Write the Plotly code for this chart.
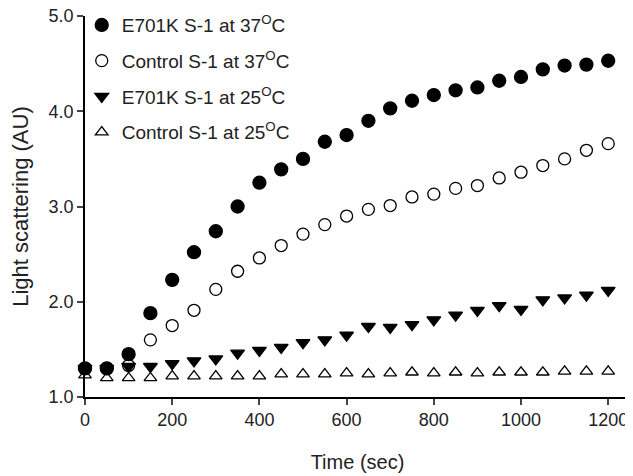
import plotly.graph_objects as go

time_s = [0, 50, 100, 150, 200, 250, 300, 350, 400, 450, 500, 550, 600,
          650, 700, 750, 800, 850, 900, 950, 1000, 1050, 1100, 1150, 1200]

e701k_37 = [1.30, 1.30, 1.45, 1.88, 2.23, 2.52, 2.74, 3.00, 3.25, 3.39, 3.50, 3.68, 3.75,
            3.90, 4.03, 4.11, 4.17, 4.22, 4.25, 4.32, 4.36, 4.44, 4.48, 4.49, 4.53]
control_37 = [1.30, 1.30, 1.33, 1.60, 1.75, 1.91, 2.13, 2.32, 2.46, 2.59, 2.71, 2.81, 2.90,
              2.97, 3.01, 3.10, 3.13, 3.19, 3.22, 3.30, 3.36, 3.43, 3.50, 3.59, 3.66]
e701k_25 = [1.30, 1.30, 1.32, 1.32, 1.35, 1.38, 1.40, 1.46, 1.49, 1.52, 1.57, 1.60, 1.65,
            1.74, 1.73, 1.76, 1.81, 1.86, 1.91, 1.96, 1.92, 2.02, 2.04, 2.07, 2.12]
control_25 = [1.23, 1.20, 1.20, 1.20, 1.22, 1.22, 1.22, 1.22, 1.22, 1.24, 1.24, 1.24, 1.25,
              1.24, 1.25, 1.26, 1.25, 1.26, 1.25, 1.26, 1.26, 1.26, 1.27, 1.27, 1.27]

names = ["E701K S-1 at 37<sup>O</sup>C", "Control S-1 at 37<sup>O</sup>C",
         "E701K S-1 at 25<sup>O</sup>C", "Control S-1 at 25<sup>O</sup>C"]
series = [e701k_37, control_37, e701k_25, control_25]
symbols = ["circle", "circle-open", "triangle-down", "triangle-up-open"]
sizes = [13, 12, 12, 11]

x_ticks = [0, 200, 400, 600, 800, 1000, 1200]
y_ticks = [1.0, 2.0, 3.0, 4.0, 5.0]

FONT = "Arial, Liberation Sans, Helvetica, sans-serif"

fig = go.Figure()
for i, (nm, ys, sym, sz) in enumerate(zip(names, series, symbols, sizes)):
    fig.add_trace(go.Scatter(
        x=time_s, y=ys, mode="markers", name=nm, legendgroup=f"g{i}",
        marker=dict(symbol=sym, size=sz, color="black",
                    line=dict(color="black", width=1.3)),
        cliponaxis=False,
    ))

# page body has an 8px margin, so the figure is sized to fit inside it
fig.update_layout(
    width=625, height=468,
    margin=dict(l=77, r=3, t=8, b=79, autoexpand=False),
    paper_bgcolor="white", plot_bgcolor="white",
    font=dict(family=FONT, size=18, color="#222"),
    showlegend=True,
    legend=dict(x=-0.006, y=1.026, xanchor="left", yanchor="top",
                bgcolor="rgba(0,0,0,0)", font=dict(size=19, color="#222"),
                tracegroupgap=8, traceorder="grouped", itemwidth=30),
    xaxis=dict(range=[0, 1250], tickvals=x_ticks, ticks="outside", ticklen=6,
               tickwidth=1.5, showline=True, linecolor="black", linewidth=1.5,
               showgrid=False, zeroline=False, automargin=False,
               ticklabeloverflow="allow",
               title=dict(text="Time (sec)", font=dict(size=20), standoff=26),
               tickfont=dict(size=18)),
    yaxis=dict(range=[1, 5], tickvals=y_ticks, tickformat=".1f", ticks="outside",
               ticklen=6, tickwidth=1.5, showline=True, linecolor="black",
               linewidth=1.5, showgrid=False, zeroline=False, automargin=False,
               ticklabeloverflow="allow",
               title=dict(text="Light scattering (AU)", font=dict(size=22), standoff=14),
               tickfont=dict(size=18)),
)

fig.write_html("out.html")
